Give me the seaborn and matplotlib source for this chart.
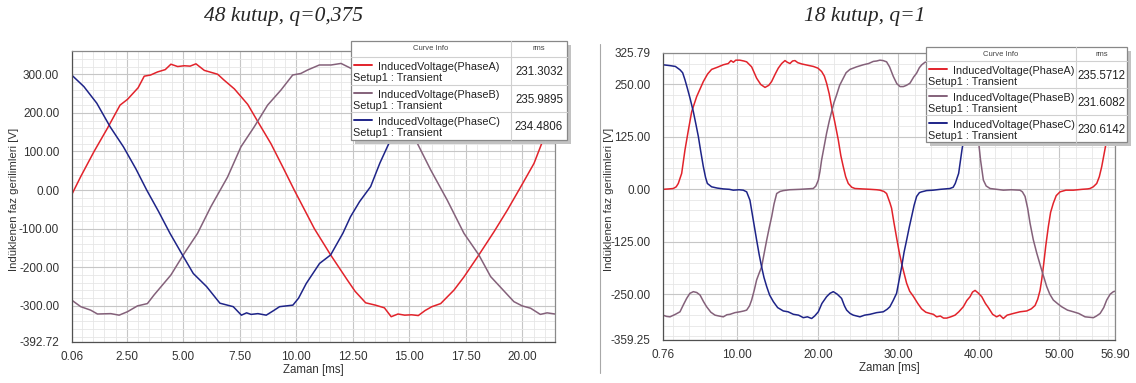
import matplotlib
matplotlib.use('Agg')
import matplotlib.pyplot as plt
from matplotlib.patches import Rectangle
from matplotlib.lines import Line2D
from matplotlib.ticker import MultipleLocator
import pandas as pd
import seaborn as sns

# ---- left panel: 48 kutup, q=0,375 (time in ms, voltage in V) ----
left_title = "48 kutup, q=0,375"
left_t_a = [0.06, 0.46, 1.05, 1.64, 2.2, 2.53, 3.0, 3.27, 3.55, 3.86, 4.2, 4.45, 4.75, 5.04, 5.3,
            5.56, 5.93, 6.52, 6.8, 7.26, 7.85, 8.29, 8.88, 9.4, 9.91, 10.4, 10.8, 11.52, 12.26,
            12.6, 13.07, 13.5, 13.9, 14.2, 14.5, 14.8, 15.1, 15.4, 15.7, 16.0, 16.39, 16.98,
            17.42, 18.08, 18.75, 19.34, 19.93, 20.52, 20.89, 21.2, 21.45]
left_v_a = [-12, 35, 100, 160, 220, 235, 265, 295, 298, 306, 312, 326, 320, 322, 321,
            327, 310, 300, 285, 262, 222, 178, 120, 60, 0, -55, -100, -168, -233,
            -262, -292, -298, -305, -328, -321, -324, -323, -325, -312, -302, -294, -259,
            -225, -168, -108, -52, 8, 69, 125, 155, 180]
left_t_b = [0.06, 0.46, 0.9, 1.2, 1.79, 2.16, 2.53, 2.97, 3.41, 3.7, 4.45, 5.04, 5.63, 6.22,
            6.96, 7.55, 8.14, 8.73, 9.32, 9.84, 10.2, 10.5, 11.02, 11.54, 11.98, 12.43, 13.0,
            13.8, 14.35, 14.8, 15.28, 15.95, 16.68, 17.42, 18.08, 18.6, 19.63, 20.0, 20.37,
            20.8, 21.1, 21.45]
left_v_b = [-285, -302, -311, -321, -320, -324, -315, -300, -294, -272, -220, -164, -112, -43,
            34, 112, 164, 220, 259, 298, 302, 311, 324, 324, 328, 315, 300,
            262, 222, 178, 130, 52, -26, -112, -168, -224, -289, -300, -306,
            -322, -318, -321]
left_t_c = [0.06, 0.6, 1.17, 1.76, 2.35, 2.9, 3.38, 3.9, 4.41, 5.0, 5.44, 6.03, 6.62, 7.21,
            7.57, 7.8, 8.0, 8.3, 8.67, 9.0, 9.26, 9.85, 10.1, 10.44, 11.03, 11.52, 12.06, 12.4,
            12.8, 13.29, 13.7, 14.17, 14.9, 15.5, 15.85, 16.6, 17.2, 17.75, 18.35, 18.9, 19.25,
            19.85, 20.6, 21.15, 21.45]
left_v_c = [298, 268, 225, 164, 112, 55, 0, -55, -112, -172, -216, -250, -293, -302,
            -324, -318, -322, -320, -324, -312, -302, -298, -280, -242, -190, -168, -112, -69,
            -30, 9, 70, 130, 160, 220, 235, 295, 306, 326, 322, 327, 310,
            300, 262, 222, 200]
left_xticks = [0.06, 2.5, 5.0, 7.5, 10.0, 12.5, 15.0, 17.5, 20.0]
left_yticks = [-392.72, -300, -200, -100, 0, 100, 200, 300]
left_rms = ["231.3032", "235.9895", "234.4806"]

# ---- right panel: 18 kutup, q=1 ----
right_title = "18 kutup, q=1"
right_t_a = [0.76, 1.5, 2.04, 2.4, 2.66, 3.08, 3.49, 3.91, 4.32, 4.94, 5.77, 6.3, 6.8, 7.5, 8.25,
             8.87, 9.2, 9.5, 9.8, 10.3, 10.8, 11.15, 11.77, 12.39, 12.9, 13.43, 13.9, 14.25, 14.7,
             15.08, 15.5, 15.91, 16.2, 16.53, 16.85, 17.15, 17.5, 17.98, 18.7, 19.43, 20.0,
             20.46, 20.8, 21.08, 21.4, 21.7, 22.1, 22.53, 22.85, 23.15, 23.45, 23.77, 24.2,
             24.6, 25.5, 26.5, 27.3, 27.7, 28.2, 28.53, 28.96, 29.15, 29.45, 29.77, 30.1, 30.4,
             30.7, 31.02, 31.4, 31.85, 32.4, 32.88, 33.4, 33.92, 34.34, 34.75, 35.2, 35.6, 36.0,
             36.5, 37.03, 37.5, 38.06, 38.5, 38.9, 39.2, 39.52, 39.9, 40.35, 40.8, 41.17, 41.7,
             42.2, 42.6, 43.03, 43.5, 44.27, 45.1, 45.94, 46.5, 46.97, 47.3, 47.59, 47.8, 48.0,
             48.3, 48.62, 48.9, 49.24, 49.6, 50.07, 50.8, 51.73, 52.8, 53.5, 53.8, 54.2, 54.63,
             54.95, 55.25, 55.6, 55.87, 56.2, 56.5, 56.9]
right_v_a = [0, 1, 2, 6, 14, 38, 94, 141, 185, 221, 257, 275, 286, 291, 297,
             300, 307, 303, 308, 308, 306, 304, 292, 265, 250, 243, 248, 257, 275,
             289, 300, 307, 303, 300, 306, 307, 302, 299, 296, 293, 289,
             281, 270, 253, 228, 197, 160, 118, 80, 54, 30, 14, 5,
             2, 1, 0, -1, -2, -5, -10, -33, -45, -80, -115, -150, -177,
             -200, -224, -243, -255, -272, -285, -293, -296, -298, -304, -302, -307, -307,
             -304, -300, -292, -280, -265, -256, -245, -241, -247, -256, -272, -282, -298,
             -304, -300, -308, -300, -296, -292, -290, -285, -277, -262, -241, -215, -185,
             -135, -89, -55, -33, -15, -6, -2, -2, 0, 1, 2, 6, 14,
             30, 54, 90, 118, 150, 185, 215]
right_t_b = [0.76, 1.2, 1.63, 2.3, 2.87, 3.3, 3.7, 4.1, 4.53, 4.95, 5.36, 5.8, 6.18, 6.7, 7.22,
             7.7, 8.25, 8.7, 9.08, 9.7, 10.32, 10.8, 11.15, 11.5, 11.77, 12.1, 12.39, 12.7,
             13.01, 13.3, 13.64, 13.95, 14.26, 14.55, 14.88, 15.3, 15.71, 16.5, 17.78, 18.6,
             19.43, 19.75, 20.05, 20.25, 20.46, 20.8, 21.08, 21.4, 21.7, 22.0, 22.32, 22.7,
             23.15, 23.5, 23.98, 24.8, 25.64, 26.3, 26.88, 27.3, 27.7, 28.1, 28.53, 28.9, 29.37,
             29.8, 30.2, 30.61, 31.0, 31.43, 31.9, 32.26, 32.6, 32.9, 33.3, 34.0, 35.0, 36.0,
             37.0, 37.8, 38.4, 39.0, 39.5, 39.93, 40.2, 40.55, 40.9, 41.38, 42.2, 43.03, 44.0,
             45.1, 45.4, 45.73, 46.05, 46.35, 46.75, 47.18, 47.8, 48.42, 48.8, 49.24, 49.8,
             50.28, 51.0, 51.73, 52.4, 53.18, 54.22, 54.6, 55.05, 55.5, 55.87, 56.3, 56.7, 56.9]
right_v_b = [-300, -303, -304, -298, -292, -275, -260, -248, -244, -246, -252, -268, -280, -293, -300,
             -302, -304, -299, -298, -294, -292, -290, -288, -278, -264, -240, -216, -200,
             -185, -155, -121, -92, -65, -35, -10, -5, -3, -1, 0, 1,
             2, 8, 22, 42, 70, 105, 134, 162, 185, 207, 225, 248,
             265, 278, 286, 292, 297, 300, 305, 306, 308, 307, 304, 292, 269,
             252, 245, 245, 248, 253, 268, 277, 290, 297, 303, 305, 300, 297,
             292, 282, 253, 197, 150, 118, 70, 22, 8, 2, 0, -2, -1,
             -2, -6, -17, -45, -81, -120, -152, -193, -232, -250, -264, -273,
             -280, -288, -292, -296, -304, -306, -302, -296, -282, -264, -250, -244, -243]
right_t_c = [0.76, 1.63, 2.3, 2.87, 3.2, 3.49, 3.8, 4.12, 4.53, 4.85, 5.15, 5.45, 5.77, 6.05, 6.27,
             6.8, 7.5, 8.25, 9.0, 9.49, 10.2, 10.73, 11.15, 11.56, 11.97, 12.39, 12.7, 13.01,
             13.3, 13.64, 14.0, 14.47, 15.0, 15.7, 16.3, 16.95, 17.6, 18.19, 18.7, 19.22, 19.6,
             20.05, 20.5, 21.08, 21.5, 21.91, 22.4, 22.94, 23.3, 23.57, 24.0, 24.4, 25.22, 25.8,
             26.46, 27.3, 28.12, 28.6, 28.94, 29.35, 29.77, 30.1, 30.4, 30.7, 31.02, 31.35,
             31.64, 31.95, 32.26, 32.6, 32.88, 33.5, 34.33, 35.2, 35.8, 36.4, 36.8, 37.06, 37.48,
             37.89, 38.3, 38.72, 39.34, 40.17, 40.7, 41.2, 41.9, 42.65, 43.6, 44.7, 45.55, 46.17,
             46.8, 47.83, 48.65, 49.48, 50.3, 51.55, 52.4, 53.83, 54.86, 55.48, 56.1, 56.5, 56.9]
right_v_c = [297, 295, 293, 285, 278, 261, 240, 217, 185, 155, 126, 90, 54, 28, 14,
             6, 3, 1, 0, -2, -1, -2, -6, -26, -73, -121, -155, -185,
             -210, -232, -252, -268, -282, -290, -292, -298, -300, -306, -304, -308, -302,
             -292, -272, -256, -248, -244, -250, -260, -278, -288, -296, -300, -304, -300,
             -298, -294, -292, -286, -280, -265, -248, -215, -185, -150, -121, -90,
             -65, -38, -17, -8, -6, -3, -2, 0, 1, 2, 5, 14, 38,
             94, 141, 185, 221, 257, 275, 286, 291, 297, 306, 308, 304, 292,
             265, 243, 257, 289, 307, 307, 299, 293, 281, 253, 197, 160, 118]
right_xticks = [0.76, 10, 20, 30, 40, 50, 56.90]
right_yticks = [-359.25, -250, -125, 0, 125, 250, 325.79]
right_rms = ["235.5712", "231.6082", "230.6142"]

phase_names = ["InducedVoltage(PhaseA)", "InducedVoltage(PhaseB)", "InducedVoltage(PhaseC)"]
colors = ["#e2232b", "#84617a", "#1e2488"]

W, H = 1136, 383


def fx(x):
    return x / W


def fy(y):
    return 1 - y / H


sns.set_style("white")
plt.rcParams['font.family'] = ['Liberation Sans', 'DejaVu Sans']

fig = plt.figure(figsize=(W / 100, H / 100), dpi=100)


def make_axes(px_left, px_top, px_right, px_bottom):
    return fig.add_axes([fx(px_left), fy(px_bottom), (px_right - px_left) / W,
                         (px_bottom - px_top) / H])


def style_axes(ax, xlim, ylim, xticks, yticks, xminor, yminor, ylab_x):
    ax.set_xlim(*xlim)
    ax.set_ylim(*ylim)
    ax.set_xticks(xticks)
    ax.set_xticklabels([f"{v:.2f}" for v in xticks])
    ax.set_yticks(yticks)
    ax.set_yticklabels([f"{v:.2f}" for v in yticks])
    ax.xaxis.set_minor_locator(MultipleLocator(xminor))
    ax.yaxis.set_minor_locator(MultipleLocator(yminor))
    ax.set_axisbelow(True)
    ax.grid(which='major', color='#c6c6c6', lw=0.8)
    ax.grid(which='minor', color='#e6e6e6', lw=0.6)
    ax.tick_params(which='both', direction='out', color='#555555', width=0.8,
                   labelsize=8.5, labelcolor='#333333')
    ax.tick_params(which='major', length=3.5)
    ax.tick_params(which='minor', length=2.5)
    ax.tick_params(axis='y', pad=5.5)
    ax.tick_params(axis='x', pad=3)
    for side in ['left', 'bottom']:
        ax.spines[side].set_color('#505050')
        ax.spines[side].set_linewidth(0.9)
    for side in ['top', 'right']:
        ax.spines[side].set_color('#8a8a8a')
        ax.spines[side].set_linewidth(0.9)
    ax.set_xlabel("Zaman [ms]", fontsize=8.3, color='#333333', labelpad=1)
    ax.set_ylabel("Indüklenen faz gerilimleri [V]", fontsize=8.2, color='#333333')
    ax.yaxis.set_label_coords(ylab_x, 0.49)


def draw_curves(ax, series):
    for (t, v), c in zip(series, colors):
        df = pd.DataFrame({'t': t, 'v': v})
        sns.lineplot(data=df, x='t', y='v', color=c, lw=1.1, ax=ax,
                     estimator=None, legend=False)


def draw_legend(x0, xdiv, x1, ytop, rows, rms):
    ybot = rows[-1]
    fig.add_artist(Rectangle((fx(x0 + 4), fy(ybot + 4)), (x1 - x0) / W, (ybot - ytop) / H,
                             transform=fig.transFigure, facecolor='#c2c2c2',
                             edgecolor='none', zorder=5))
    fig.add_artist(Rectangle((fx(x0), fy(ybot)), (x1 - x0) / W, (ybot - ytop) / H,
                             transform=fig.transFigure, facecolor='white',
                             edgecolor='#888888', lw=0.9, zorder=6))
    for y in rows[:-1]:
        fig.add_artist(Line2D([fx(x0), fx(x1)], [fy(y), fy(y)], transform=fig.transFigure,
                              color='#d0d0d0', lw=0.8, zorder=7))
    fig.add_artist(Line2D([fx(xdiv), fx(xdiv)], [fy(ytop), fy(ybot)], transform=fig.transFigure,
                          color='#d0d0d0', lw=0.8, zorder=7))
    hy = (ytop + rows[0]) / 2
    fig.text(fx((x0 + xdiv) / 2), fy(hy), "Curve Info", fontsize=5.5, color='#444444',
             ha='center', va='center', zorder=8)
    fig.text(fx((xdiv + x1) / 2), fy(hy), "rms", fontsize=5.5, color='#444444',
             ha='center', va='center', zorder=8)
    for i in range(3):
        top, bot = rows[i], rows[i + 1]
        h = bot - top
        fig.add_artist(Line2D([fx(x0 + 2.5), fx(x0 + 21)], [fy(top + 0.3 * h)] * 2,
                              transform=fig.transFigure, color=colors[i], lw=1.4, zorder=8))
        fig.text(fx(x0 + 27), fy(top + 0.36 * h), phase_names[i], fontsize=7.8,
                 color='#222222', ha='left', va='center', zorder=8)
        fig.text(fx(x0 + 2), fy(top + 0.76 * h), "Setup1 : Transient", fontsize=7.8,
                 color='#222222', ha='left', va='center', zorder=8)
        fig.text(fx((xdiv + x1) / 2), fy(top + 0.55 * h), rms[i], fontsize=8.3,
                 color='#222222', ha='center', va='center', zorder=8)


# left panel
ax1 = make_axes(71.7, 50.7, 555, 341.7)
draw_curves(ax1, [(left_t_a, left_v_a), (left_t_b, left_v_b), (left_t_c, left_v_c)])
style_axes(ax1, (0.06, 21.45), (-392.72, 361), left_xticks, left_yticks, 0.5, 20, -0.11)

# right panel
ax2 = make_axes(663, 52.7, 1115, 340)
draw_curves(ax2, [(right_t_a, right_v_a), (right_t_b, right_v_b), (right_t_c, right_v_c)])
style_axes(ax2, (0.76, 56.90), (-359.25, 325.79), right_xticks, right_yticks, 2, 25, -0.108)

draw_legend(351, 511, 567, 41, [57, 85, 112, 140], left_rms)
draw_legend(926, 1076, 1127, 47, [61, 88, 115, 142], right_rms)

# thin frame line between the two screenshots
fig.add_artist(Line2D([fx(600), fx(600)], [fy(44), fy(373)], transform=fig.transFigure,
                      color='#a8a8a8', lw=0.8))

fig.text(fx(284), fy(16), left_title, family=['Liberation Serif', 'DejaVu Serif'],
         style='italic', fontsize=15.5, ha='center', va='center')
fig.text(fx(865), fy(16), right_title, family=['Liberation Serif', 'DejaVu Serif'],
         style='italic', fontsize=15.5, ha='center', va='center')

fig.savefig('out.png', dpi=100)
